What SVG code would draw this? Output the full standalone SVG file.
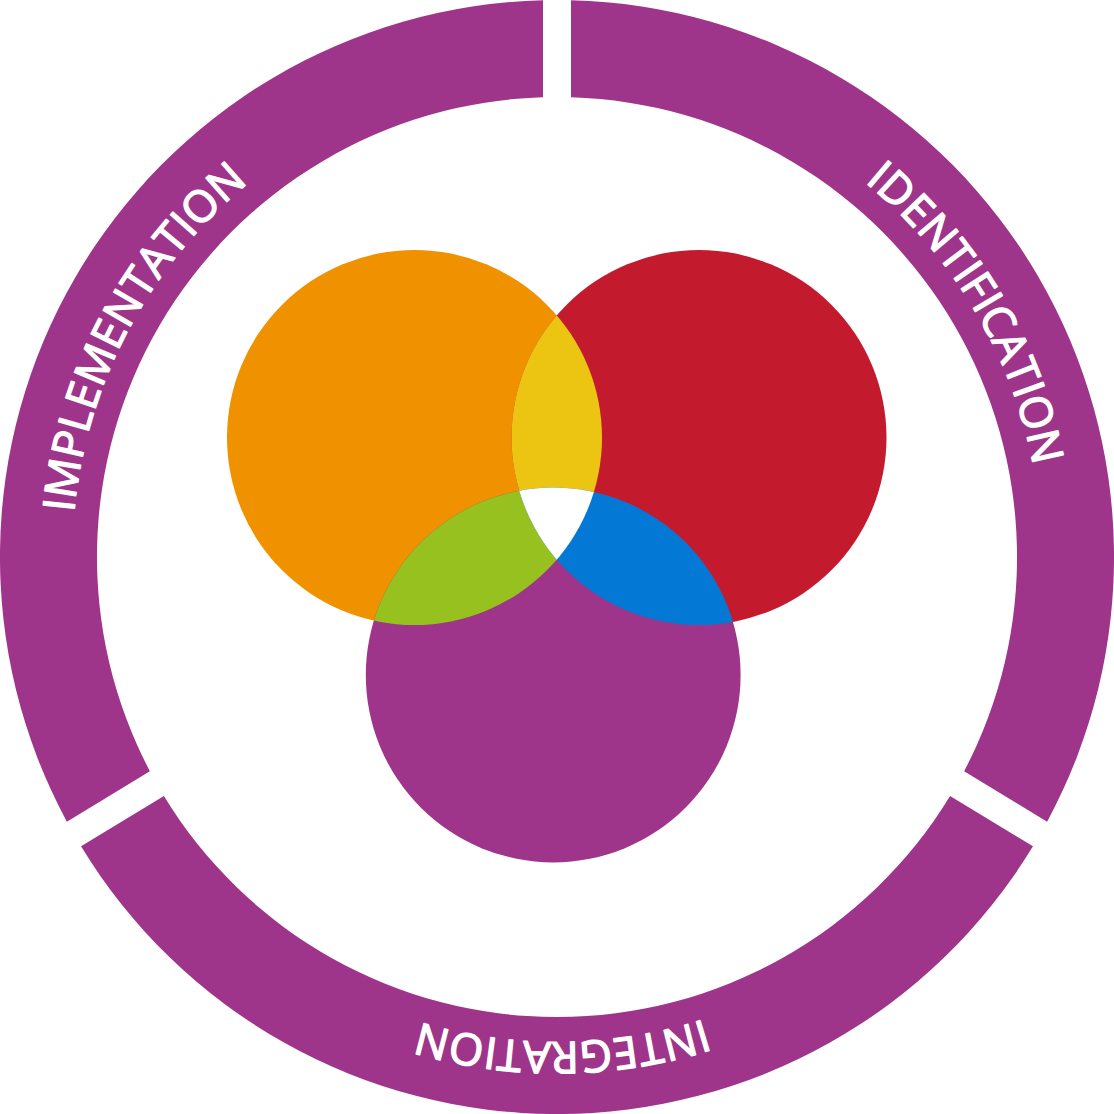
<svg xmlns="http://www.w3.org/2000/svg" xmlns:xlink="http://www.w3.org/1999/xlink" width="1114" height="1114" viewBox="0 0 1114 1114">
  <style>
    .seg { fill: #9E358A; }
    .lbl { font-family: "Open Sans", "Liberation Sans", sans-serif; font-size: 44px; font-weight: normal; fill: #FFFFFF; stroke: #FFFFFF; stroke-width: 1.4px; stroke-linejoin: round; letter-spacing: 0.3px; }
  </style>
  <defs>
    <path id="tp-ident" d="M 551.07 72.04 A 485 485 0 0 1 979.95 794.35"/>
    <path id="tp-integ" d="M 979.54 795.09 A 485 485 0 0 1 139.54 803.88"/>
    <path id="tp-impl" d="M 146.12 814.73 A 485 485 0 0 1 539.23 72.33"/>
    <clipPath id="clip-orange"><circle cx="414.5" cy="437.5" r="187.5"/></clipPath>
    <clipPath id="clip-red"><circle cx="699" cy="437.5" r="187.5"/></clipPath>
  </defs>
  <rect width="1114" height="1114" fill="#FFFFFF"/>

  <g id="identification">
    <path class="seg" d="M 571 0.18 A 557 557 0 0 1 1047.14 821.63 L 964.13 771.16 A 460 460 0 0 0 571 97.21 Z"/>
    <text class="lbl"><textPath xlink:href="#tp-ident" href="#tp-ident" startOffset="50%" text-anchor="middle">IDENTIFICATION</textPath></text>
  </g>
  <g id="integration">
    <path class="seg" d="M 1032.96 846.36 A 557 557 0 0 1 81.04 846.36 L 163.93 795.97 A 460 460 0 0 0 950.07 795.97 Z"/>
    <text class="lbl"><textPath xlink:href="#tp-integ" href="#tp-integ" startOffset="50%" text-anchor="middle">INTEGRATION</textPath></text>
  </g>
  <g id="implementation">
    <path class="seg" d="M 66.86 821.63 A 557 557 0 0 1 543 0.18 L 543 97.21 A 460 460 0 0 0 149.87 771.16 Z"/>
    <text class="lbl"><textPath xlink:href="#tp-impl" href="#tp-impl" startOffset="50%" text-anchor="middle">IMPLEMENTATION</textPath></text>
  </g>

  <g id="venn">
    <g id="circle-orange"><circle cx="414.5" cy="437.5" r="187.5" fill="#F09100"/></g>
    <g id="circle-red"><circle cx="699" cy="437.5" r="187.5" fill="#C41A2E"/></g>
    <g id="circle-purple"><circle cx="553.2" cy="675" r="187.4" fill="#9E358A"/></g>
    <g id="overlap-yellow"><circle cx="699" cy="437.5" r="187.5" fill="#EBC512" clip-path="url(#clip-orange)"/></g>
    <g id="overlap-green"><circle cx="553.2" cy="675" r="187.4" fill="#96C11F" clip-path="url(#clip-orange)"/></g>
    <g id="overlap-blue"><circle cx="553.2" cy="675" r="187.4" fill="#0378D4" clip-path="url(#clip-red)"/></g>
    <g id="overlap-center" clip-path="url(#clip-red)"><circle cx="553.2" cy="675" r="187.4" fill="#FFFFFF" clip-path="url(#clip-orange)"/></g>
  </g>
</svg>
